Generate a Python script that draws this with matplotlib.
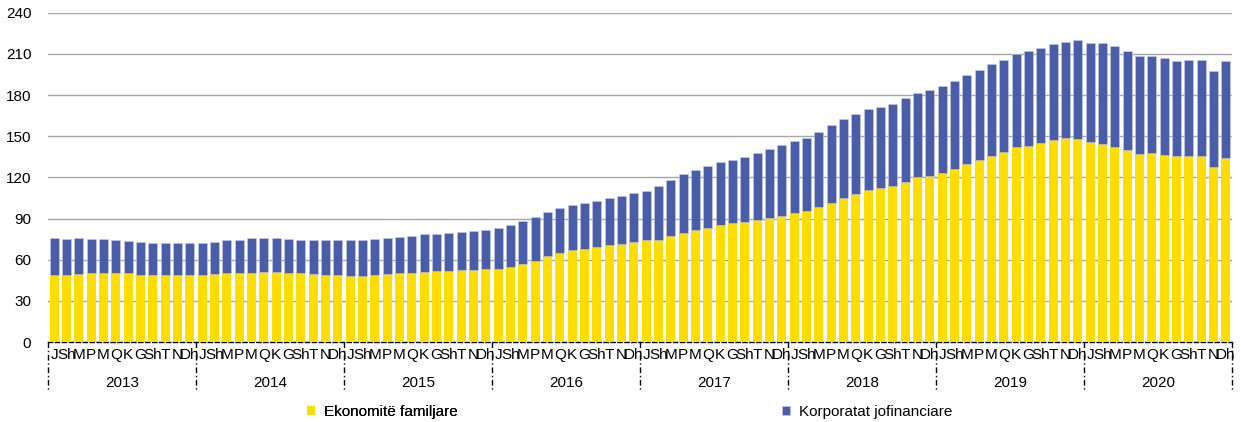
import matplotlib
matplotlib.use("Agg")
import matplotlib.pyplot as plt
import matplotlib.transforms as mtransforms
import numpy as np

plt.rcParams['font.family'] = ['Liberation Sans', 'DejaVu Sans']

years = ["2013", "2014", "2015", "2016", "2017", "2018", "2019", "2020"]
months = ["J", "Sh", "M", "P", "M", "Q", "K", "G", "Sh", "T", "N", "Dh"]

households = [
    49.1, 49.1, 49.8, 50.1, 50.1, 50.1, 50.1, 49.1, 49.1, 48.9, 49.1, 49.1,
    48.9, 49.4, 50.1, 50.3, 50.6, 50.8, 50.8, 50.1, 50.1, 49.6, 49.1, 48.9,
    48.4, 48.4, 49.1, 49.4, 50.1, 50.6, 51.1, 51.6, 51.8, 52.8, 52.8, 53.0,
    53.5, 54.9, 57.1, 59.3, 63.0, 65.2, 67.1, 67.8, 69.3, 70.5, 71.7, 72.7,
    74.4, 74.6, 77.1, 79.3, 81.9, 83.4, 85.1, 86.6, 87.8, 89.0, 90.4, 91.7,
    93.8, 95.5, 98.5, 101.6, 105.3, 108.2, 110.6, 112.1, 113.8, 116.9, 119.9, 121.3,
    123.5, 125.9, 129.6, 132.8, 135.9, 138.6, 142.0, 143.2, 144.9, 147.1, 148.8, 147.8,
    145.6, 144.2, 142.2, 139.6, 137.1, 137.9, 136.6, 135.4, 135.4, 135.7, 127.4, 134.2,
]

totals = [
    75.9, 75.4, 75.6, 75.4, 75.4, 74.4, 73.9, 72.9, 72.2, 71.9, 71.9, 71.9,
    72.2, 72.7, 74.2, 74.6, 75.6, 75.6, 76.1, 75.4, 74.6, 74.6, 74.4, 74.4,
    74.2, 74.2, 74.9, 75.9, 76.8, 77.6, 78.5, 78.8, 79.3, 80.2, 81.2, 81.9,
    82.9, 85.1, 88.3, 91.2, 94.6, 97.5, 99.7, 101.1, 102.8, 104.8, 106.5, 108.7,
    110.4, 113.5, 118.4, 122.1, 125.7, 128.6, 131.3, 133.0, 134.7, 137.4, 140.5, 143.7,
    146.5, 148.8, 152.9, 157.8, 162.2, 166.1, 169.7, 171.4, 173.6, 177.5, 181.4, 184.0,
    186.5, 190.1, 194.7, 198.4, 202.3, 205.5, 210.1, 211.8, 214.4, 216.9, 218.8, 219.8,
    218.1, 217.6, 215.7, 211.8, 208.1, 208.6, 206.7, 204.7, 205.2, 205.7, 197.2, 205.0,
]

corporates = [t - h for t, h in zip(totals, households)]

yellow = "#FFDD00"
blue = "#4A5DA8"
FS = 11

fig = plt.figure(figsize=(12.41, 4.22), dpi=100)
ax = fig.add_axes([48 / 1241, 80 / 422, (1232 - 48) / 1241, (342 - 12.7) / 422])

n = len(households)
x = np.arange(n)
b1 = ax.bar(x, households, width=0.75, color=yellow, label="Ekonomitë familjare", zorder=3)
b2 = ax.bar(x, corporates, width=0.75, bottom=households, color=blue,
            label="Korporatat jofinanciare", zorder=3, edgecolor="#c9cde6", linewidth=0.4)

ax.set_xlim(-0.5, n - 0.5)
ax.set_ylim(0, 240)
ax.set_yticks(np.arange(0, 241, 30))
ax.yaxis.grid(True, color="#A6A6A6", linewidth=1.0, zorder=0)
ax.set_axisbelow(True)
ax.tick_params(axis="y", length=0, labelsize=FS, pad=12, colors="black")

for s in ["left", "right", "top"]:
    ax.spines[s].set_visible(False)
ax.spines["bottom"].set_linestyle((0, (3, 2)))
ax.spines["bottom"].set_color("black")
ax.spines["bottom"].set_linewidth(1.0)

ax.set_xticks(x)
ax.set_xticklabels(months * len(years), fontsize=FS)
ax.tick_params(axis="x", length=0, pad=4)

trans = mtransforms.blended_transform_factory(ax.transData, ax.transAxes)
for i, yr in enumerate(years):
    ax.text(i * 12 + 5.5, -0.125, yr, transform=trans, ha="center", va="center",
            fontsize=FS)
for i in range(len(years) + 1):
    ax.plot([i * 12 - 0.5, i * 12 - 0.5], [0, -0.152], transform=trans,
            color="black", linewidth=1.0, linestyle=(0, (4, 2, 1, 2)), clip_on=False)

common = dict(loc="center left", frameon=False, fontsize=FS, handlelength=0.55,
              handleheight=0.55, handletextpad=0.55, borderpad=0, borderaxespad=0)
leg1 = fig.legend([b1], ["Ekonomitë familjare"], bbox_to_anchor=(307 / 1241, 10 / 422), **common)
fig.add_artist(leg1)
fig.legend([b2], ["Korporatat jofinanciare"], bbox_to_anchor=(782 / 1241, 10 / 422), **common)

fig.savefig("out.png", dpi=100)
